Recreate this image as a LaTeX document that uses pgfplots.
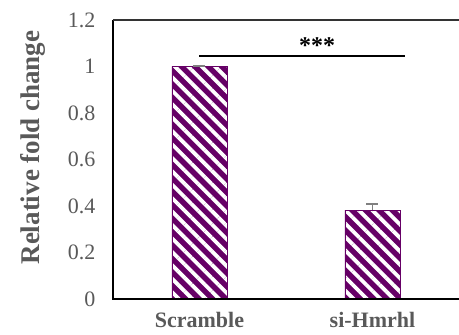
\documentclass[border=0pt]{standalone}
\usepackage{fontspec}
\setmainfont{Liberation Serif}
\usepackage{pgfplots}
\pgfplotsset{compat=1.18}
\usetikzlibrary{patterns.meta}
\definecolor{barpurple}{HTML}{660066}
\definecolor{txtgray}{HTML}{595959}
\begin{document}
\begin{tikzpicture}
\begin{axis}[
  at={(0,0)}, anchor=south west,
  scale only axis, width=346pt, height=279pt,
  xmin=-0.5, xmax=1.5, ymin=0, ymax=1.2,
  xtick={0,1}, xticklabels={Scramble, si-Hmrhl},
  ytick={0,0.2,0.4,0.6,0.8,1,1.2},
  yticklabels={0,0.2,0.4,0.6,0.8,1,1.2},
  major tick length=0pt,
  axis line style={draw=none},
  yticklabel style={font=\fontsize{22}{22}\selectfont, text=txtgray, anchor=east, xshift=-14pt},
  xticklabel style={font=\bfseries\fontsize{22}{22}\selectfont, text=txtgray, anchor=north, yshift=-10pt},
  ylabel={Relative fold change},
  every axis y label/.style={at={(rel axis cs:0,0.5)}, xshift=-80pt, yshift=12pt, rotate=90, anchor=center,
     font=\bfseries\fontsize{27}{27}\selectfont, text=txtgray},
  clip=false,
]
\addplot[ybar, bar width=0.32, draw=barpurple, fill=barpurple,
  postaction={pattern={Lines[angle=-45,distance=9.5pt,line width=3.8pt]}, pattern color=white},
  error bars/.cd, y dir=plus, y explicit,
  error bar style={color=gray, line width=1.8pt},
  error mark options={rotate=90, mark size=6pt, line width=1.8pt, gray}]
  coordinates {(0,1) +- (0,0.003) (1,0.382) +- (0,0.026)};
\draw[line width=2.2pt, black] (rel axis cs:0,1) -- (rel axis cs:0,0) -- (rel axis cs:1,0);
\draw[line width=1.8pt, black!80] (rel axis cs:0,1) -- (rel axis cs:1,1);
\draw[line width=2pt, black] (axis cs:0,1.047) -- (axis cs:1.19,1.047);
\node[font=\bfseries\fontsize{24}{24}\selectfont] at (axis cs:0.68,1.09) {***};
\end{axis}
\pgfresetboundingbox
\path (-113pt,-36pt) rectangle (346pt,299pt);
\end{tikzpicture}
\end{document}
